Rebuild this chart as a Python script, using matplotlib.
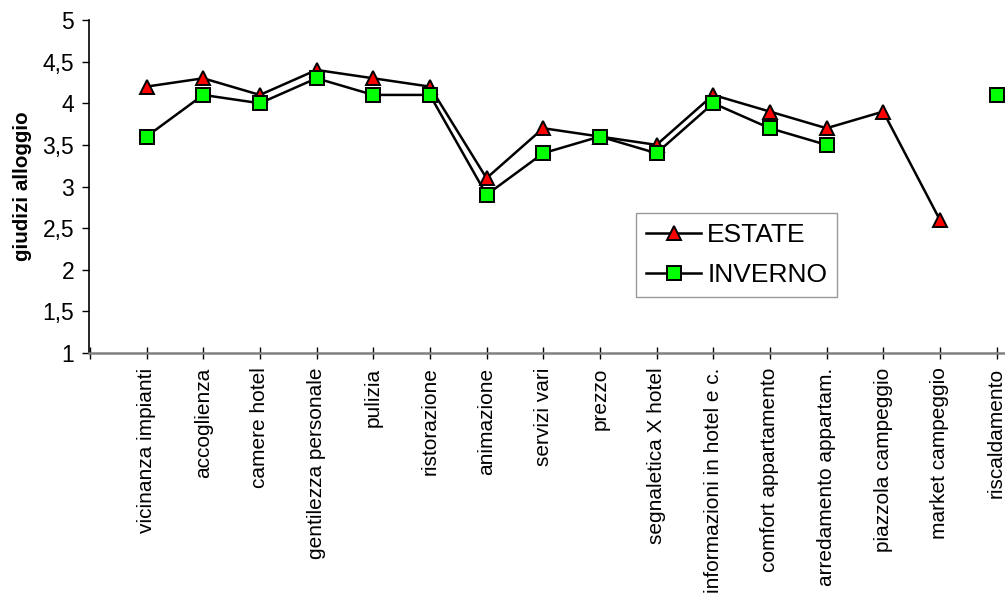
import matplotlib
matplotlib.use("Agg")
import matplotlib.pyplot as plt
import numpy as np

plt.rcParams['font.family'] = ['Liberation Sans', 'DejaVu Sans']

categories = [
    "vicinanza impianti", "accoglienza", "camere hotel", "gentilezza personale",
    "pulizia", "ristorazione", "animazione", "servizi vari", "prezzo",
    "segnaletica X hotel", "informazioni in hotel e c.", "comfort appartamento",
    "arredamento appartam.", "piazzola campeggio", "market campeggio", "riscaldamento",
]
estate = [4.2, 4.3, 4.1, 4.4, 4.3, 4.2, 3.1, 3.7, 3.6, 3.5, 4.1, 3.9, 3.7, 3.9, 2.6, None]
inverno = [3.6, 4.1, 4.0, 4.3, 4.1, 4.1, 2.9, 3.4, 3.6, 3.4, 4.0, 3.7, 3.5, None, None, 4.1]
y_ticks = [1, 1.5, 2, 2.5, 3, 3.5, 4, 4.5, 5]
y_tick_labels = ["1", "1,5", "2", "2,5", "3", "3,5", "4", "4,5", "5"]

def as_array(vals):
    return np.array([np.nan if v is None else v for v in vals], dtype=float)

fig = plt.figure(figsize=(10.05, 6.01), dpi=100)
ax = fig.add_axes([89.3 / 1005, 1 - 353 / 601, 1 - 89.3 / 1005, (353 - 20) / 601])

x = np.arange(len(categories))
ax.plot(x, as_array(estate), color="black", lw=1.8, marker="^", markersize=10.5,
        markerfacecolor="#ff0000", markeredgecolor="black", markeredgewidth=1.4,
        label="ESTATE", clip_on=False, zorder=3)
ax.plot(x, as_array(inverno), color="black", lw=1.8, marker="s", markersize=9.5,
        markerfacecolor="#00ff00", markeredgecolor="black", markeredgewidth=1.4,
        label="INVERNO", clip_on=False, zorder=4)

ax.set_xlim(-1.01, 15.15)
ax.set_ylim(1, 5)
ax.set_yticks(y_ticks)
ax.set_yticklabels(y_tick_labels, fontsize=16.5)
ax.set_xticks(np.arange(-1, len(categories)))
ax.set_xticklabels([""] + categories, rotation=90, fontsize=15.0, va="top")

for side in ("top", "right"):
    ax.spines[side].set_visible(False)
ax.spines["left"].set_color("black")
ax.spines["left"].set_linewidth(1.2)
ax.spines["bottom"].set_color("#808080")
ax.spines["bottom"].set_linewidth(1.8)

ax.tick_params(axis="y", direction="out", length=5, width=1.0, color="black", pad=6)
ax.tick_params(axis="x", direction="inout", length=9, width=1.0, color="black", pad=6)

ax.set_ylabel("giudizi alloggio", fontsize=14.8, fontweight="bold")
ax.yaxis.set_label_coords(-0.063, 0.5)

leg = ax.legend(loc="upper left", bbox_to_anchor=(636 / 1005, 1 - 213 / 601),
                bbox_transform=fig.transFigure, borderaxespad=0, fontsize=19,
                frameon=True, fancybox=False, handlelength=2.1, handletextpad=0.22,
                labelspacing=0.62, borderpad=0.38)
leg.get_frame().set_edgecolor("#808080")
leg.get_frame().set_linewidth(1.0)

fig.savefig("out.png", dpi=100)
